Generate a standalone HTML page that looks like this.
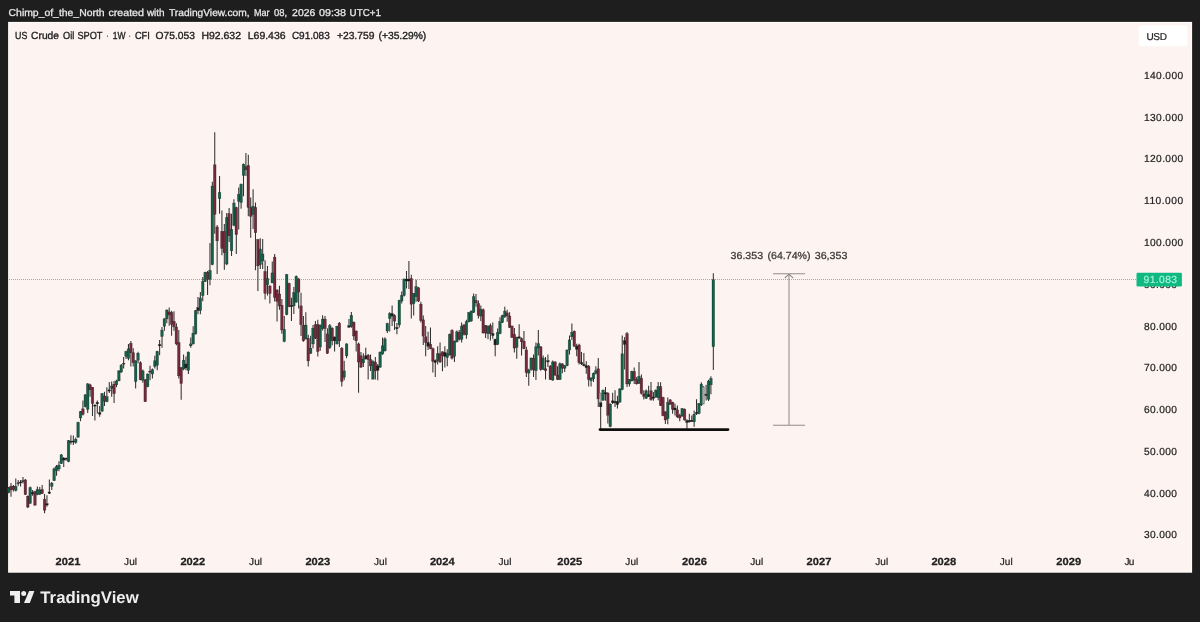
<!DOCTYPE html>
<html><head><meta charset="utf-8"><title>US Crude Oil SPOT 1W</title>
<style>html,body{margin:0;padding:0;background:#1e1e1e}svg{display:block}text{font-family:"Liberation Sans",sans-serif;text-rendering:geometricPrecision}</style></head>
<body>
<svg width="1200" height="622" viewBox="0 0 1200 622">
<rect width="1200" height="622" fill="#1e1e1e"/>
<rect x="8.1" y="21.9" width="1184" height="550.8" fill="#fffdfc"/>
<rect x="9.1" y="22.9" width="1182" height="548.8" fill="#fdf3f1"/>
<text x="8.6" y="16.3" font-size="10" fill="#e8e8e8" stroke="#e8e8e8" stroke-width="0.28" font-weight="normal" textLength="96.00" lengthAdjust="spacingAndGlyphs">Chimp_of_the_North</text>
<text x="108.4" y="16.3" font-size="10" fill="#e8e8e8" stroke="#e8e8e8" stroke-width="0.28" font-weight="normal" textLength="35.60" lengthAdjust="spacingAndGlyphs">created</text>
<text x="146.9" y="16.3" font-size="10" fill="#e8e8e8" stroke="#e8e8e8" stroke-width="0.28" font-weight="normal" textLength="17.70" lengthAdjust="spacingAndGlyphs">with</text>
<text x="169" y="16.3" font-size="10" fill="#e8e8e8" stroke="#e8e8e8" stroke-width="0.28" font-weight="normal" textLength="80.60" lengthAdjust="spacingAndGlyphs">TradingView.com,</text>
<text x="254" y="16.3" font-size="10" fill="#e8e8e8" stroke="#e8e8e8" stroke-width="0.28" font-weight="normal" textLength="15.60" lengthAdjust="spacingAndGlyphs">Mar</text>
<text x="274" y="16.3" font-size="10" fill="#e8e8e8" stroke="#e8e8e8" stroke-width="0.28" font-weight="normal" textLength="13.10" lengthAdjust="spacingAndGlyphs">08,</text>
<text x="292.1" y="16.3" font-size="10" fill="#e8e8e8" stroke="#e8e8e8" stroke-width="0.28" font-weight="normal" textLength="23.15" lengthAdjust="spacingAndGlyphs">2026</text>
<text x="319" y="16.3" font-size="10" fill="#e8e8e8" stroke="#e8e8e8" stroke-width="0.28" font-weight="normal" textLength="26.90" lengthAdjust="spacingAndGlyphs">09:38</text>
<text x="349.6" y="16.3" font-size="10" fill="#e8e8e8" stroke="#e8e8e8" stroke-width="0.28" font-weight="normal" textLength="31.30" lengthAdjust="spacingAndGlyphs">UTC+1</text>
<text x="15.1" y="38.6" font-size="10.3" fill="#222222" stroke="#222222" stroke-width="0.35" font-weight="normal" textLength="12.30" lengthAdjust="spacingAndGlyphs">US</text>
<text x="31.1" y="38.6" font-size="10.3" fill="#222222" stroke="#222222" stroke-width="0.35" font-weight="normal" textLength="27.90" lengthAdjust="spacingAndGlyphs">Crude</text>
<text x="63" y="38.6" font-size="10.3" fill="#222222" stroke="#222222" stroke-width="0.35" font-weight="normal" textLength="11.25" lengthAdjust="spacingAndGlyphs">Oil</text>
<text x="77.4" y="38.6" font-size="10.3" fill="#222222" stroke="#222222" stroke-width="0.35" font-weight="normal" textLength="25.00" lengthAdjust="spacingAndGlyphs">SPOT</text>
<text x="106.6" y="38.6" font-size="10.3" fill="#222222" stroke="#222222" stroke-width="0.35" font-weight="normal" textLength="1.60" lengthAdjust="spacingAndGlyphs">·</text>
<text x="112.75" y="38.6" font-size="10.3" fill="#222222" stroke="#222222" stroke-width="0.35" font-weight="normal" textLength="12.75" lengthAdjust="spacingAndGlyphs">1W</text>
<text x="129.1" y="38.6" font-size="10.3" fill="#222222" stroke="#222222" stroke-width="0.35" font-weight="normal" textLength="1.60" lengthAdjust="spacingAndGlyphs">·</text>
<text x="134.9" y="38.6" font-size="10.3" fill="#222222" stroke="#222222" stroke-width="0.35" font-weight="normal" textLength="15.00" lengthAdjust="spacingAndGlyphs">CFI</text>
<text x="155.6" y="38.6" font-size="10.3" fill="#222222" stroke="#222222" stroke-width="0.35" font-weight="normal" textLength="39.40" lengthAdjust="spacingAndGlyphs">O75.053</text>
<text x="201.5" y="38.6" font-size="10.3" fill="#222222" stroke="#222222" stroke-width="0.35" font-weight="normal" textLength="39.50" lengthAdjust="spacingAndGlyphs">H92.632</text>
<text x="247.75" y="38.6" font-size="10.3" fill="#222222" stroke="#222222" stroke-width="0.35" font-weight="normal" textLength="37.85" lengthAdjust="spacingAndGlyphs">L69.436</text>
<text x="291.9" y="38.6" font-size="10.3" fill="#222222" stroke="#222222" stroke-width="0.35" font-weight="normal" textLength="37.85" lengthAdjust="spacingAndGlyphs">C91.083</text>
<text x="336.9" y="38.6" font-size="10.3" fill="#222222" stroke="#222222" stroke-width="0.35" font-weight="normal" textLength="37.50" lengthAdjust="spacingAndGlyphs">+23.759</text>
<text x="378.5" y="38.6" font-size="10.3" fill="#222222" stroke="#222222" stroke-width="0.35" font-weight="normal" textLength="47.75" lengthAdjust="spacingAndGlyphs">(+35.29%)</text>
<rect x="1138.8" y="25.5" width="48.7" height="20.8" rx="3" fill="#ffffff"/>
<text x="1146.4" y="39.6" font-size="10" fill="#222222" stroke="#222222" stroke-width="0.22" font-weight="normal" text-anchor="start" textLength="20.6" lengthAdjust="spacing">USD</text>
<text x="1144" y="538.4" font-size="10.2" fill="#222222" stroke="#222222" stroke-width="0.22" font-weight="normal" text-anchor="start" textLength="33.0" lengthAdjust="spacing">30.000</text>
<text x="1144" y="496.6" font-size="10.2" fill="#222222" stroke="#222222" stroke-width="0.22" font-weight="normal" text-anchor="start" textLength="33.0" lengthAdjust="spacing">40.000</text>
<text x="1144" y="454.9" font-size="10.2" fill="#222222" stroke="#222222" stroke-width="0.22" font-weight="normal" text-anchor="start" textLength="33.0" lengthAdjust="spacing">50.000</text>
<text x="1144" y="413.1" font-size="10.2" fill="#222222" stroke="#222222" stroke-width="0.22" font-weight="normal" text-anchor="start" textLength="33.0" lengthAdjust="spacing">60.000</text>
<text x="1144" y="371.3" font-size="10.2" fill="#222222" stroke="#222222" stroke-width="0.22" font-weight="normal" text-anchor="start" textLength="33.0" lengthAdjust="spacing">70.000</text>
<text x="1144" y="329.5" font-size="10.2" fill="#222222" stroke="#222222" stroke-width="0.22" font-weight="normal" text-anchor="start" textLength="33.0" lengthAdjust="spacing">80.000</text>
<text x="1144" y="287.7" font-size="10.2" fill="#222222" stroke="#222222" stroke-width="0.22" font-weight="normal" text-anchor="start" textLength="33.0" lengthAdjust="spacing">90.000</text>
<text x="1144" y="245.9" font-size="10.2" fill="#222222" stroke="#222222" stroke-width="0.22" font-weight="normal" text-anchor="start" textLength="39.1" lengthAdjust="spacing">100.000</text>
<text x="1144" y="204.2" font-size="10.2" fill="#222222" stroke="#222222" stroke-width="0.22" font-weight="normal" text-anchor="start" textLength="39.1" lengthAdjust="spacing">110.000</text>
<text x="1144" y="162.4" font-size="10.2" fill="#222222" stroke="#222222" stroke-width="0.22" font-weight="normal" text-anchor="start" textLength="39.1" lengthAdjust="spacing">120.000</text>
<text x="1144" y="120.6" font-size="10.2" fill="#222222" stroke="#222222" stroke-width="0.22" font-weight="normal" text-anchor="start" textLength="39.1" lengthAdjust="spacing">130.000</text>
<text x="1144" y="78.8" font-size="10.2" fill="#222222" stroke="#222222" stroke-width="0.22" font-weight="normal" text-anchor="start" textLength="39.1" lengthAdjust="spacing">140.000</text>
<line x1="9" x2="1136" y1="279.5" y2="279.5" stroke="#6dba9c" stroke-width="0.9" stroke-dasharray="1 1"/>
<defs><filter id="bl" x="-2%" y="-2%" width="104%" height="104%"><feGaussianBlur stdDeviation="0.35"/></filter></defs>
<g id="candles" filter="url(#bl)"><path d="M8.60 487.0V493.3M11.00 482.9V496.7M13.39 485.1V491.4M15.79 478.6V491.6M18.19 480.1V486.1M20.59 479.9V486.4M22.98 477.0V483.6M25.38 479.1V494.9M27.78 495.4V507.9M30.17 486.4V503.9M32.57 490.1V495.8M34.97 490.8V505.8M37.36 486.6V495.2M39.76 487.0V494.9M42.16 485.1V494.1M44.55 493.9V513.3M46.95 495.2V506.7M49.35 479.5V493.9M51.75 482.0V489.9M54.14 467.6V481.1M56.54 465.1V475.7M58.94 461.3V471.3M61.33 454.0V464.0M63.73 456.9V466.9M66.13 457.5V460.7M68.52 440.0V462.3M70.92 435.2V444.4M73.32 435.6V445.0M75.72 437.5V443.7M78.11 421.8V437.7M80.51 410.9V421.2M82.91 400.5V415.5M85.30 394.2V407.4M87.70 383.3V413.0M90.10 383.8V396.7M92.49 387.0V416.1M94.89 404.2V420.5M97.29 400.5V413.6M99.69 406.1V416.8M102.08 392.9V411.7M104.48 391.7V406.1M106.88 387.3V402.3M109.27 382.0V392.9M111.67 381.6V396.7M114.07 381.0V403.0M116.46 379.8V387.3M118.86 370.2V381.3M121.26 364.0V372.7M123.66 357.1V368.4M126.05 350.8V358.9M128.45 343.9V360.2M130.85 341.1V366.5M133.24 348.3V366.5M135.64 360.2V388.5M138.04 351.7V363.3M140.43 361.2V380.3M142.83 369.6V382.8M145.23 379.1V402.1M147.63 373.4V387.2M150.02 365.8V380.3M152.42 368.4V378.4M154.82 355.8V368.4M157.21 350.8V370.2M159.61 340.1V355.2M162.01 327.0V347.7M164.40 318.2V330.7M166.80 309.4V323.2M169.20 307.5V325.7M171.60 310.7V335.7M173.99 311.3V330.7M176.39 323.2V345.2M178.79 330.1V378.4M181.18 367.1V399.8M183.58 354.6V370.2M185.98 356.4V370.2M188.37 351.4V374.0M190.77 337.6V347.7M193.17 326.3V344.5M195.57 310.0V334.5M197.96 297.0V314.2M200.36 291.9V314.2M202.76 276.9V301.2M205.15 271.8V282.0M207.55 271.0V295.1M209.95 243.0V285.3M212.34 181.7V265.2M214.74 132.2V233.8M217.14 225.0V274.1M219.54 176.1V213.7M221.93 210.6V255.2M224.33 223.9V269.7M226.73 213.1V265.3M229.12 208.1V242.1M231.52 213.7V255.9M233.92 199.3V226.3M236.31 206.8V254.0M238.71 187.4V229.5M241.11 183.6V208.7M243.51 163.6V196.2M245.90 152.9V176.1M248.30 154.8V216.2M250.70 197.4V237.7M253.09 189.3V228.9M255.49 202.4V270.3M257.89 238.9V291.0M260.28 238.3V269.0M262.68 238.9V269.0M265.08 260.2V299.6M267.48 266.1V295.6M269.87 285.2V303.4M272.27 261.4V283.3M274.67 254.0V301.5M277.06 289.3V321.6M279.46 285.8V309.7M281.86 299.0V333.7M284.25 315.9V342.3M286.65 273.9V315.3M289.05 282.7V307.2M291.45 297.7V320.9M293.84 287.1V314.1M296.24 275.5V302.8M298.64 278.3V308.4M301.03 292.7V336.0M303.43 315.9V341.8M305.83 312.2V339.5M308.23 334.7V366.5M310.62 335.7V353.9M313.02 325.1V348.3M315.42 320.9V339.1M317.81 319.7V356.4M320.21 324.5V350.8M322.61 315.3V330.4M325.00 315.9V342.0M327.40 328.2V353.9M329.80 324.1V348.9M332.19 327.2V345.2M334.59 336.4V351.4M336.99 325.7V344.5M339.39 322.0V347.0M341.78 347.0V386.5M344.18 360.8V380.3M346.58 343.3V358.3M348.97 319.1V327.8M351.37 311.9V327.8M353.77 321.6V340.0M356.17 330.4V351.4M358.56 342.6V392.8M360.96 352.1V368.0M363.36 353.3V367.1M365.75 347.7V359.6M368.15 353.9V379.6M370.55 354.6V370.9M372.94 360.2V379.6M375.34 357.1V379.6M377.74 364.0V380.3M380.13 351.4V367.7M382.53 337.6V354.8M384.93 337.3V351.4M387.33 322.8V332.9M389.72 312.2V331.6M392.12 305.4V326.1M394.52 314.2V329.9M396.91 323.0V334.3M399.31 299.8V327.4M401.71 291.6V303.5M404.10 278.5V296.6M406.50 270.9V288.5M408.90 260.9V289.1M411.30 274.7V318.6M413.69 292.9V315.5M416.09 279.7V301.7M418.49 286.9V301.9M420.88 301.7V322.4M423.28 315.5V344.9M425.68 326.1V356.2M428.07 331.8V349.9M430.47 327.4V349.3M432.87 347.4V372.5M435.27 359.4V376.9M437.66 346.2V364.4M440.06 342.4V363.1M442.46 351.2V371.3M444.85 346.2V367.5M447.25 349.3V366.3M449.65 333.6V355.6M452.04 329.3V359.4M454.44 340.5V361.9M456.84 330.5V342.4M459.24 329.9V340.5M461.63 322.4V342.4M464.03 324.2V335.5M466.43 319.8V338.7M468.82 311.9V322.4M471.22 310.4V321.7M473.62 293.5V312.9M476.01 293.9V306.7M478.41 300.4V318.6M480.81 305.4V321.1M483.21 308.6V333.6M485.60 324.9V338.0M488.00 325.5V339.3M490.40 323.6V340.5M492.79 322.4V338.7M495.19 338.7V356.2M497.59 328.6V344.9M499.98 317.3V334.3M502.38 314.8V323.0M504.78 306.7V318.0M507.18 309.8V321.7M509.57 312.3V328.0M511.97 325.5V338.0M514.37 328.0V352.5M516.76 336.8V358.7M519.16 324.2V338.7M521.56 337.4V355.6M523.95 331.1V349.3M526.35 346.8V376.9M528.75 368.8V385.7M531.15 357.5V370.7M533.54 354.4V376.9M535.94 342.5V380.1M538.34 329.9V355.6M540.73 346.2V370.7M543.13 355.6V370.1M545.53 356.9V379.5M547.92 354.4V366.9M550.32 365.0V380.1M552.72 360.6V380.7M555.12 361.3V375.7M557.51 366.3V380.1M559.91 362.5V380.1M562.31 363.2V373.2M564.70 365.0V371.9M567.10 349.4V366.3M569.50 335.6V354.4M571.89 323.6V339.9M574.29 330.5V346.8M576.69 343.7V356.3M579.09 343.7V364.4M581.48 351.9V365.0M583.88 353.1V366.3M586.28 361.3V373.8M588.67 365.0V386.4M591.07 376.9V386.4M593.47 372.6V382.0M595.87 366.3V374.4M598.26 358.1V407.1M600.66 392.7V429.1M600.66 402.7V407.1M603.06 389.6V400.8M605.45 387.1V400.8M607.85 392.1V423.4M610.25 403.4V427.2M612.64 392.7V404.0M615.04 390.2V407.1M617.44 395.8V408.4M619.83 388.3V402.7M622.23 335.6V390.2M624.63 336.9V369.5M627.03 332.1V387.1M629.42 378.9V386.4M631.82 370.7V381.4M634.22 367.6V383.9M636.61 377.0V384.5M639.01 362.0V383.9M641.41 374.5V394.6M643.80 390.2V399.6M646.20 389.6V399.0M648.60 385.8V397.1M651.00 382.0V400.8M653.39 392.1V400.8M655.79 389.6V397.7M658.19 382.0V400.2M660.58 382.3V406.1M662.98 396.7V416.2M665.38 411.2V423.9M667.77 397.4V424.3M670.17 398.9V404.9M672.57 401.7V413.7M674.97 403.6V415.5M677.36 405.5V418.1M679.76 413.7V421.2M682.16 408.0V416.8M684.55 408.4V420.6M686.95 419.3V428.7M689.35 413.7V422.4M691.75 415.5V421.8M694.14 410.5V426.8M696.54 399.2V414.9M698.94 403.0V414.3M701.33 382.3V406.1M703.73 386.1V404.3M706.13 384.8V400.5M708.52 379.8V401.1M710.92 376.3V394.2M713.32 273.2V370.1" stroke="#333" stroke-width="1.05" fill="none"/>
<rect x="7.30" y="487.6" width="2.6" height="5.0" fill="#14604a" stroke="#0c0c0c" stroke-opacity="0.5" stroke-width="0.5"/>
<rect x="9.70" y="486.4" width="2.6" height="3.5" fill="#74293a" stroke="#0c0c0c" stroke-opacity="0.5" stroke-width="0.5"/>
<rect x="12.09" y="486.1" width="2.6" height="3.4" fill="#74293a" stroke="#0c0c0c" stroke-opacity="0.5" stroke-width="0.5"/>
<rect x="14.49" y="486.4" width="2.6" height="4.0" fill="#14604a" stroke="#0c0c0c" stroke-opacity="0.5" stroke-width="0.5"/>
<rect x="16.89" y="482.8" width="2.6" height="0.8" fill="#1c1c1c" stroke="#0c0c0c" stroke-opacity="0.5" stroke-width="0.5"/>
<rect x="19.29" y="482.0" width="2.6" height="0.9" fill="#1c1c1c" stroke="#0c0c0c" stroke-opacity="0.5" stroke-width="0.5"/>
<rect x="21.68" y="480.7" width="2.6" height="0.9" fill="#1c1c1c" stroke="#0c0c0c" stroke-opacity="0.5" stroke-width="0.5"/>
<rect x="24.08" y="479.9" width="2.6" height="14.7" fill="#74293a" stroke="#0c0c0c" stroke-opacity="0.5" stroke-width="0.5"/>
<rect x="26.48" y="496.2" width="2.6" height="10.9" fill="#74293a" stroke="#0c0c0c" stroke-opacity="0.5" stroke-width="0.5"/>
<rect x="28.87" y="487.6" width="2.6" height="15.7" fill="#14604a" stroke="#0c0c0c" stroke-opacity="0.5" stroke-width="0.5"/>
<rect x="31.27" y="492.6" width="2.6" height="1.3" fill="#1c1c1c" stroke="#0c0c0c" stroke-opacity="0.5" stroke-width="0.5"/>
<rect x="33.67" y="491.6" width="2.6" height="13.5" fill="#74293a" stroke="#0c0c0c" stroke-opacity="0.5" stroke-width="0.5"/>
<rect x="36.06" y="489.5" width="2.6" height="5.0" fill="#14604a" stroke="#0c0c0c" stroke-opacity="0.5" stroke-width="0.5"/>
<rect x="38.46" y="489.9" width="2.6" height="4.3" fill="#14604a" stroke="#0c0c0c" stroke-opacity="0.5" stroke-width="0.5"/>
<rect x="40.86" y="489.5" width="2.6" height="4.1" fill="#74293a" stroke="#0c0c0c" stroke-opacity="0.5" stroke-width="0.5"/>
<rect x="43.26" y="499.2" width="2.6" height="11.0" fill="#74293a" stroke="#0c0c0c" stroke-opacity="0.5" stroke-width="0.5"/>
<rect x="45.65" y="503.7" width="2.6" height="1.3" fill="#1c1c1c" stroke="#0c0c0c" stroke-opacity="0.5" stroke-width="0.5"/>
<rect x="48.05" y="492.0" width="2.6" height="1.3" fill="#1c1c1c" stroke="#0c0c0c" stroke-opacity="0.5" stroke-width="0.5"/>
<rect x="50.45" y="483.2" width="2.6" height="3.1" fill="#14604a" stroke="#0c0c0c" stroke-opacity="0.5" stroke-width="0.5"/>
<rect x="52.84" y="468.8" width="2.6" height="11.9" fill="#14604a" stroke="#0c0c0c" stroke-opacity="0.5" stroke-width="0.5"/>
<rect x="55.24" y="466.3" width="2.6" height="4.4" fill="#14604a" stroke="#0c0c0c" stroke-opacity="0.5" stroke-width="0.5"/>
<rect x="57.64" y="465.1" width="2.6" height="3.8" fill="#14604a" stroke="#0c0c0c" stroke-opacity="0.5" stroke-width="0.5"/>
<rect x="60.03" y="454.8" width="2.6" height="8.8" fill="#14604a" stroke="#0c0c0c" stroke-opacity="0.5" stroke-width="0.5"/>
<rect x="62.43" y="458.2" width="2.6" height="1.9" fill="#1c1c1c" stroke="#0c0c0c" stroke-opacity="0.5" stroke-width="0.5"/>
<rect x="64.83" y="458.3" width="2.6" height="1.0" fill="#1c1c1c" stroke="#0c0c0c" stroke-opacity="0.5" stroke-width="0.5"/>
<rect x="67.22" y="440.6" width="2.6" height="20.9" fill="#14604a" stroke="#0c0c0c" stroke-opacity="0.5" stroke-width="0.5"/>
<rect x="69.62" y="441.2" width="2.6" height="1.0" fill="#1c1c1c" stroke="#0c0c0c" stroke-opacity="0.5" stroke-width="0.5"/>
<rect x="72.02" y="441.0" width="2.6" height="1.0" fill="#1c1c1c" stroke="#0c0c0c" stroke-opacity="0.5" stroke-width="0.5"/>
<rect x="74.42" y="439.3" width="2.6" height="3.1" fill="#14604a" stroke="#0c0c0c" stroke-opacity="0.5" stroke-width="0.5"/>
<rect x="76.81" y="422.4" width="2.6" height="14.8" fill="#14604a" stroke="#0c0c0c" stroke-opacity="0.5" stroke-width="0.5"/>
<rect x="79.21" y="411.4" width="2.6" height="6.6" fill="#14604a" stroke="#0c0c0c" stroke-opacity="0.5" stroke-width="0.5"/>
<rect x="81.61" y="408.9" width="2.6" height="5.4" fill="#74293a" stroke="#0c0c0c" stroke-opacity="0.5" stroke-width="0.5"/>
<rect x="84.00" y="394.8" width="2.6" height="11.9" fill="#14604a" stroke="#0c0c0c" stroke-opacity="0.5" stroke-width="0.5"/>
<rect x="86.40" y="383.8" width="2.6" height="25.5" fill="#14604a" stroke="#0c0c0c" stroke-opacity="0.5" stroke-width="0.5"/>
<rect x="88.80" y="384.8" width="2.6" height="5.0" fill="#74293a" stroke="#0c0c0c" stroke-opacity="0.5" stroke-width="0.5"/>
<rect x="91.19" y="387.3" width="2.6" height="16.3" fill="#74293a" stroke="#0c0c0c" stroke-opacity="0.5" stroke-width="0.5"/>
<rect x="93.59" y="405.1" width="2.6" height="1.0" fill="#1c1c1c" stroke="#0c0c0c" stroke-opacity="0.5" stroke-width="0.5"/>
<rect x="95.99" y="402.3" width="2.6" height="1.5" fill="#1c1c1c" stroke="#0c0c0c" stroke-opacity="0.5" stroke-width="0.5"/>
<rect x="98.39" y="412.6" width="2.6" height="1.6" fill="#1c1c1c" stroke="#0c0c0c" stroke-opacity="0.5" stroke-width="0.5"/>
<rect x="100.78" y="393.6" width="2.6" height="17.6" fill="#14604a" stroke="#0c0c0c" stroke-opacity="0.5" stroke-width="0.5"/>
<rect x="103.18" y="396.1" width="2.6" height="5.0" fill="#74293a" stroke="#0c0c0c" stroke-opacity="0.5" stroke-width="0.5"/>
<rect x="105.58" y="396.7" width="2.6" height="5.0" fill="#14604a" stroke="#0c0c0c" stroke-opacity="0.5" stroke-width="0.5"/>
<rect x="107.97" y="389.8" width="2.6" height="1.3" fill="#1c1c1c" stroke="#0c0c0c" stroke-opacity="0.5" stroke-width="0.5"/>
<rect x="110.37" y="386.0" width="2.6" height="2.5" fill="#14604a" stroke="#0c0c0c" stroke-opacity="0.5" stroke-width="0.5"/>
<rect x="112.77" y="384.2" width="2.6" height="9.4" fill="#74293a" stroke="#0c0c0c" stroke-opacity="0.5" stroke-width="0.5"/>
<rect x="115.16" y="381.0" width="2.6" height="3.8" fill="#14604a" stroke="#0c0c0c" stroke-opacity="0.5" stroke-width="0.5"/>
<rect x="117.56" y="370.9" width="2.6" height="9.9" fill="#14604a" stroke="#0c0c0c" stroke-opacity="0.5" stroke-width="0.5"/>
<rect x="119.96" y="365.2" width="2.6" height="6.9" fill="#14604a" stroke="#0c0c0c" stroke-opacity="0.5" stroke-width="0.5"/>
<rect x="122.36" y="363.3" width="2.6" height="0.9" fill="#1c1c1c" stroke="#0c0c0c" stroke-opacity="0.5" stroke-width="0.5"/>
<rect x="124.75" y="351.4" width="2.6" height="5.0" fill="#14604a" stroke="#0c0c0c" stroke-opacity="0.5" stroke-width="0.5"/>
<rect x="127.15" y="348.9" width="2.6" height="9.4" fill="#14604a" stroke="#0c0c0c" stroke-opacity="0.5" stroke-width="0.5"/>
<rect x="129.55" y="343.3" width="2.6" height="9.4" fill="#74293a" stroke="#0c0c0c" stroke-opacity="0.5" stroke-width="0.5"/>
<rect x="131.94" y="352.7" width="2.6" height="10.0" fill="#74293a" stroke="#0c0c0c" stroke-opacity="0.5" stroke-width="0.5"/>
<rect x="134.34" y="360.8" width="2.6" height="20.8" fill="#14604a" stroke="#0c0c0c" stroke-opacity="0.5" stroke-width="0.5"/>
<rect x="136.74" y="353.3" width="2.6" height="6.9" fill="#14604a" stroke="#0c0c0c" stroke-opacity="0.5" stroke-width="0.5"/>
<rect x="139.13" y="362.7" width="2.6" height="17.1" fill="#74293a" stroke="#0c0c0c" stroke-opacity="0.5" stroke-width="0.5"/>
<rect x="141.53" y="370.9" width="2.6" height="9.4" fill="#14604a" stroke="#0c0c0c" stroke-opacity="0.5" stroke-width="0.5"/>
<rect x="143.93" y="379.8" width="2.6" height="21.9" fill="#74293a" stroke="#0c0c0c" stroke-opacity="0.5" stroke-width="0.5"/>
<rect x="146.33" y="374.0" width="2.6" height="12.7" fill="#14604a" stroke="#0c0c0c" stroke-opacity="0.5" stroke-width="0.5"/>
<rect x="148.72" y="371.2" width="2.6" height="0.9" fill="#1c1c1c" stroke="#0c0c0c" stroke-opacity="0.5" stroke-width="0.5"/>
<rect x="151.12" y="369.6" width="2.6" height="4.4" fill="#14604a" stroke="#0c0c0c" stroke-opacity="0.5" stroke-width="0.5"/>
<rect x="153.52" y="360.8" width="2.6" height="5.6" fill="#14604a" stroke="#0c0c0c" stroke-opacity="0.5" stroke-width="0.5"/>
<rect x="155.91" y="351.4" width="2.6" height="13.8" fill="#14604a" stroke="#0c0c0c" stroke-opacity="0.5" stroke-width="0.5"/>
<rect x="158.31" y="344.5" width="2.6" height="1.3" fill="#1c1c1c" stroke="#0c0c0c" stroke-opacity="0.5" stroke-width="0.5"/>
<rect x="160.71" y="330.1" width="2.6" height="6.3" fill="#14604a" stroke="#0c0c0c" stroke-opacity="0.5" stroke-width="0.5"/>
<rect x="163.10" y="318.8" width="2.6" height="7.5" fill="#14604a" stroke="#0c0c0c" stroke-opacity="0.5" stroke-width="0.5"/>
<rect x="165.50" y="310.0" width="2.6" height="8.8" fill="#14604a" stroke="#0c0c0c" stroke-opacity="0.5" stroke-width="0.5"/>
<rect x="167.90" y="311.9" width="2.6" height="3.1" fill="#74293a" stroke="#0c0c0c" stroke-opacity="0.5" stroke-width="0.5"/>
<rect x="170.30" y="312.5" width="2.6" height="11.9" fill="#74293a" stroke="#0c0c0c" stroke-opacity="0.5" stroke-width="0.5"/>
<rect x="172.69" y="321.3" width="2.6" height="5.6" fill="#74293a" stroke="#0c0c0c" stroke-opacity="0.5" stroke-width="0.5"/>
<rect x="175.09" y="327.0" width="2.6" height="16.9" fill="#74293a" stroke="#0c0c0c" stroke-opacity="0.5" stroke-width="0.5"/>
<rect x="177.49" y="342.6" width="2.6" height="33.2" fill="#74293a" stroke="#0c0c0c" stroke-opacity="0.5" stroke-width="0.5"/>
<rect x="179.88" y="367.7" width="2.6" height="15.8" fill="#74293a" stroke="#0c0c0c" stroke-opacity="0.5" stroke-width="0.5"/>
<rect x="182.28" y="360.2" width="2.6" height="8.8" fill="#14604a" stroke="#0c0c0c" stroke-opacity="0.5" stroke-width="0.5"/>
<rect x="184.68" y="364.0" width="2.6" height="3.8" fill="#1c1c1c" stroke="#0c0c0c" stroke-opacity="0.5" stroke-width="0.5"/>
<rect x="187.07" y="352.1" width="2.6" height="18.2" fill="#14604a" stroke="#0c0c0c" stroke-opacity="0.5" stroke-width="0.5"/>
<rect x="189.47" y="343.9" width="2.6" height="1.9" fill="#14604a" stroke="#0c0c0c" stroke-opacity="0.5" stroke-width="0.5"/>
<rect x="191.87" y="333.2" width="2.6" height="10.7" fill="#14604a" stroke="#0c0c0c" stroke-opacity="0.5" stroke-width="0.5"/>
<rect x="194.27" y="310.7" width="2.6" height="23.2" fill="#14604a" stroke="#0c0c0c" stroke-opacity="0.5" stroke-width="0.5"/>
<rect x="196.66" y="307.7" width="2.6" height="2.8" fill="#1c1c1c" stroke="#0c0c0c" stroke-opacity="0.5" stroke-width="0.5"/>
<rect x="199.06" y="297.9" width="2.6" height="12.6" fill="#14604a" stroke="#0c0c0c" stroke-opacity="0.5" stroke-width="0.5"/>
<rect x="201.46" y="281.6" width="2.6" height="14.0" fill="#14604a" stroke="#0c0c0c" stroke-opacity="0.5" stroke-width="0.5"/>
<rect x="203.85" y="272.3" width="2.6" height="9.3" fill="#14604a" stroke="#0c0c0c" stroke-opacity="0.5" stroke-width="0.5"/>
<rect x="206.25" y="272.3" width="2.6" height="7.0" fill="#74293a" stroke="#0c0c0c" stroke-opacity="0.5" stroke-width="0.5"/>
<rect x="208.65" y="270.4" width="2.6" height="8.9" fill="#14604a" stroke="#0c0c0c" stroke-opacity="0.5" stroke-width="0.5"/>
<rect x="211.04" y="186.1" width="2.6" height="78.5" fill="#14604a" stroke="#0c0c0c" stroke-opacity="0.5" stroke-width="0.5"/>
<rect x="213.44" y="164.8" width="2.6" height="49.5" fill="#74293a" stroke="#0c0c0c" stroke-opacity="0.5" stroke-width="0.5"/>
<rect x="215.84" y="227.0" width="2.6" height="13.8" fill="#74293a" stroke="#0c0c0c" stroke-opacity="0.5" stroke-width="0.5"/>
<rect x="218.24" y="192.4" width="2.6" height="6.3" fill="#14604a" stroke="#0c0c0c" stroke-opacity="0.5" stroke-width="0.5"/>
<rect x="220.63" y="231.4" width="2.6" height="16.9" fill="#74293a" stroke="#0c0c0c" stroke-opacity="0.5" stroke-width="0.5"/>
<rect x="223.03" y="231.4" width="2.6" height="21.3" fill="#74293a" stroke="#0c0c0c" stroke-opacity="0.5" stroke-width="0.5"/>
<rect x="225.43" y="217.5" width="2.6" height="46.5" fill="#14604a" stroke="#0c0c0c" stroke-opacity="0.5" stroke-width="0.5"/>
<rect x="227.82" y="213.7" width="2.6" height="22.1" fill="#74293a" stroke="#0c0c0c" stroke-opacity="0.5" stroke-width="0.5"/>
<rect x="230.22" y="229.5" width="2.6" height="21.3" fill="#14604a" stroke="#0c0c0c" stroke-opacity="0.5" stroke-width="0.5"/>
<rect x="232.62" y="203.1" width="2.6" height="22.1" fill="#14604a" stroke="#0c0c0c" stroke-opacity="0.5" stroke-width="0.5"/>
<rect x="235.01" y="207.5" width="2.6" height="27.1" fill="#74293a" stroke="#0c0c0c" stroke-opacity="0.5" stroke-width="0.5"/>
<rect x="237.41" y="194.3" width="2.6" height="6.9" fill="#14604a" stroke="#0c0c0c" stroke-opacity="0.5" stroke-width="0.5"/>
<rect x="239.81" y="184.3" width="2.6" height="18.2" fill="#14604a" stroke="#0c0c0c" stroke-opacity="0.5" stroke-width="0.5"/>
<rect x="242.21" y="164.2" width="2.6" height="11.3" fill="#14604a" stroke="#0c0c0c" stroke-opacity="0.5" stroke-width="0.5"/>
<rect x="244.60" y="166.7" width="2.6" height="3.1" fill="#74293a" stroke="#0c0c0c" stroke-opacity="0.5" stroke-width="0.5"/>
<rect x="247.00" y="165.4" width="2.6" height="42.0" fill="#74293a" stroke="#0c0c0c" stroke-opacity="0.5" stroke-width="0.5"/>
<rect x="249.40" y="207.5" width="2.6" height="8.8" fill="#74293a" stroke="#0c0c0c" stroke-opacity="0.5" stroke-width="0.5"/>
<rect x="251.79" y="206.2" width="2.6" height="8.2" fill="#14604a" stroke="#0c0c0c" stroke-opacity="0.5" stroke-width="0.5"/>
<rect x="254.19" y="207.5" width="2.6" height="25.2" fill="#74293a" stroke="#0c0c0c" stroke-opacity="0.5" stroke-width="0.5"/>
<rect x="256.59" y="239.5" width="2.6" height="26.3" fill="#74293a" stroke="#0c0c0c" stroke-opacity="0.5" stroke-width="0.5"/>
<rect x="258.98" y="249.0" width="2.6" height="15.7" fill="#14604a" stroke="#0c0c0c" stroke-opacity="0.5" stroke-width="0.5"/>
<rect x="261.38" y="254.0" width="2.6" height="6.9" fill="#14604a" stroke="#0c0c0c" stroke-opacity="0.5" stroke-width="0.5"/>
<rect x="263.78" y="271.5" width="2.6" height="21.8" fill="#74293a" stroke="#0c0c0c" stroke-opacity="0.5" stroke-width="0.5"/>
<rect x="266.18" y="278.7" width="2.6" height="6.0" fill="#14604a" stroke="#0c0c0c" stroke-opacity="0.5" stroke-width="0.5"/>
<rect x="268.57" y="286.0" width="2.6" height="7.5" fill="#74293a" stroke="#0c0c0c" stroke-opacity="0.5" stroke-width="0.5"/>
<rect x="270.97" y="272.9" width="2.6" height="9.9" fill="#14604a" stroke="#0c0c0c" stroke-opacity="0.5" stroke-width="0.5"/>
<rect x="273.37" y="257.1" width="2.6" height="40.4" fill="#74293a" stroke="#0c0c0c" stroke-opacity="0.5" stroke-width="0.5"/>
<rect x="275.76" y="290.0" width="2.6" height="11.5" fill="#74293a" stroke="#0c0c0c" stroke-opacity="0.5" stroke-width="0.5"/>
<rect x="278.16" y="294.0" width="2.6" height="11.9" fill="#74293a" stroke="#0c0c0c" stroke-opacity="0.5" stroke-width="0.5"/>
<rect x="280.56" y="305.3" width="2.6" height="24.6" fill="#74293a" stroke="#0c0c0c" stroke-opacity="0.5" stroke-width="0.5"/>
<rect x="282.95" y="329.5" width="2.6" height="11.9" fill="#14604a" stroke="#0c0c0c" stroke-opacity="0.5" stroke-width="0.5"/>
<rect x="285.35" y="274.5" width="2.6" height="40.1" fill="#14604a" stroke="#0c0c0c" stroke-opacity="0.5" stroke-width="0.5"/>
<rect x="287.75" y="283.3" width="2.6" height="23.2" fill="#74293a" stroke="#0c0c0c" stroke-opacity="0.5" stroke-width="0.5"/>
<rect x="290.15" y="305.3" width="2.6" height="1.3" fill="#1c1c1c" stroke="#0c0c0c" stroke-opacity="0.5" stroke-width="0.5"/>
<rect x="292.54" y="292.7" width="2.6" height="13.2" fill="#14604a" stroke="#0c0c0c" stroke-opacity="0.5" stroke-width="0.5"/>
<rect x="294.94" y="276.4" width="2.6" height="25.7" fill="#14604a" stroke="#0c0c0c" stroke-opacity="0.5" stroke-width="0.5"/>
<rect x="297.34" y="278.9" width="2.6" height="13.2" fill="#74293a" stroke="#0c0c0c" stroke-opacity="0.5" stroke-width="0.5"/>
<rect x="299.73" y="305.9" width="2.6" height="18.8" fill="#74293a" stroke="#0c0c0c" stroke-opacity="0.5" stroke-width="0.5"/>
<rect x="302.13" y="325.1" width="2.6" height="15.7" fill="#74293a" stroke="#0c0c0c" stroke-opacity="0.5" stroke-width="0.5"/>
<rect x="304.53" y="325.1" width="2.6" height="13.8" fill="#14604a" stroke="#0c0c0c" stroke-opacity="0.5" stroke-width="0.5"/>
<rect x="306.93" y="338.3" width="2.6" height="22.6" fill="#74293a" stroke="#0c0c0c" stroke-opacity="0.5" stroke-width="0.5"/>
<rect x="309.32" y="348.3" width="2.6" height="5.0" fill="#14604a" stroke="#0c0c0c" stroke-opacity="0.5" stroke-width="0.5"/>
<rect x="311.72" y="328.2" width="2.6" height="15.7" fill="#14604a" stroke="#0c0c0c" stroke-opacity="0.5" stroke-width="0.5"/>
<rect x="314.12" y="324.7" width="2.6" height="13.5" fill="#74293a" stroke="#0c0c0c" stroke-opacity="0.5" stroke-width="0.5"/>
<rect x="316.51" y="324.5" width="2.6" height="27.0" fill="#74293a" stroke="#0c0c0c" stroke-opacity="0.5" stroke-width="0.5"/>
<rect x="318.91" y="325.1" width="2.6" height="21.9" fill="#14604a" stroke="#0c0c0c" stroke-opacity="0.5" stroke-width="0.5"/>
<rect x="321.31" y="319.1" width="2.6" height="9.4" fill="#14604a" stroke="#0c0c0c" stroke-opacity="0.5" stroke-width="0.5"/>
<rect x="323.70" y="319.1" width="2.6" height="9.4" fill="#74293a" stroke="#0c0c0c" stroke-opacity="0.5" stroke-width="0.5"/>
<rect x="326.10" y="333.9" width="2.6" height="19.4" fill="#74293a" stroke="#0c0c0c" stroke-opacity="0.5" stroke-width="0.5"/>
<rect x="328.50" y="325.7" width="2.6" height="21.9" fill="#14604a" stroke="#0c0c0c" stroke-opacity="0.5" stroke-width="0.5"/>
<rect x="330.89" y="328.2" width="2.6" height="12.5" fill="#74293a" stroke="#0c0c0c" stroke-opacity="0.5" stroke-width="0.5"/>
<rect x="333.29" y="337.0" width="2.6" height="3.8" fill="#1c1c1c" stroke="#0c0c0c" stroke-opacity="0.5" stroke-width="0.5"/>
<rect x="335.69" y="326.3" width="2.6" height="17.6" fill="#14604a" stroke="#0c0c0c" stroke-opacity="0.5" stroke-width="0.5"/>
<rect x="338.09" y="323.2" width="2.6" height="17.6" fill="#74293a" stroke="#0c0c0c" stroke-opacity="0.5" stroke-width="0.5"/>
<rect x="340.48" y="348.3" width="2.6" height="33.2" fill="#74293a" stroke="#0c0c0c" stroke-opacity="0.5" stroke-width="0.5"/>
<rect x="342.88" y="370.9" width="2.6" height="6.3" fill="#14604a" stroke="#0c0c0c" stroke-opacity="0.5" stroke-width="0.5"/>
<rect x="345.28" y="343.9" width="2.6" height="11.9" fill="#14604a" stroke="#0c0c0c" stroke-opacity="0.5" stroke-width="0.5"/>
<rect x="347.67" y="325.7" width="2.6" height="1.5" fill="#1c1c1c" stroke="#0c0c0c" stroke-opacity="0.5" stroke-width="0.5"/>
<rect x="350.07" y="315.3" width="2.6" height="11.3" fill="#14604a" stroke="#0c0c0c" stroke-opacity="0.5" stroke-width="0.5"/>
<rect x="352.47" y="322.2" width="2.6" height="13.8" fill="#74293a" stroke="#0c0c0c" stroke-opacity="0.5" stroke-width="0.5"/>
<rect x="354.87" y="331.0" width="2.6" height="9.8" fill="#74293a" stroke="#0c0c0c" stroke-opacity="0.5" stroke-width="0.5"/>
<rect x="357.26" y="343.9" width="2.6" height="18.2" fill="#74293a" stroke="#0c0c0c" stroke-opacity="0.5" stroke-width="0.5"/>
<rect x="359.66" y="355.8" width="2.6" height="11.3" fill="#74293a" stroke="#0c0c0c" stroke-opacity="0.5" stroke-width="0.5"/>
<rect x="362.06" y="359.0" width="2.6" height="3.8" fill="#14604a" stroke="#0c0c0c" stroke-opacity="0.5" stroke-width="0.5"/>
<rect x="364.45" y="355.8" width="2.6" height="3.1" fill="#1c1c1c" stroke="#0c0c0c" stroke-opacity="0.5" stroke-width="0.5"/>
<rect x="366.85" y="355.2" width="2.6" height="4.4" fill="#74293a" stroke="#0c0c0c" stroke-opacity="0.5" stroke-width="0.5"/>
<rect x="369.25" y="359.6" width="2.6" height="6.3" fill="#74293a" stroke="#0c0c0c" stroke-opacity="0.5" stroke-width="0.5"/>
<rect x="371.64" y="361.5" width="2.6" height="17.6" fill="#14604a" stroke="#0c0c0c" stroke-opacity="0.5" stroke-width="0.5"/>
<rect x="374.04" y="362.1" width="2.6" height="8.8" fill="#74293a" stroke="#0c0c0c" stroke-opacity="0.5" stroke-width="0.5"/>
<rect x="376.44" y="365.9" width="2.6" height="4.4" fill="#1c1c1c" stroke="#0c0c0c" stroke-opacity="0.5" stroke-width="0.5"/>
<rect x="378.83" y="352.1" width="2.6" height="15.1" fill="#14604a" stroke="#0c0c0c" stroke-opacity="0.5" stroke-width="0.5"/>
<rect x="381.23" y="345.8" width="2.6" height="8.2" fill="#14604a" stroke="#0c0c0c" stroke-opacity="0.5" stroke-width="0.5"/>
<rect x="383.63" y="338.9" width="2.6" height="11.9" fill="#14604a" stroke="#0c0c0c" stroke-opacity="0.5" stroke-width="0.5"/>
<rect x="386.03" y="323.5" width="2.6" height="7.5" fill="#14604a" stroke="#0c0c0c" stroke-opacity="0.5" stroke-width="0.5"/>
<rect x="388.42" y="313.5" width="2.6" height="5.0" fill="#14604a" stroke="#0c0c0c" stroke-opacity="0.5" stroke-width="0.5"/>
<rect x="390.82" y="313.6" width="2.6" height="2.5" fill="#1c1c1c" stroke="#0c0c0c" stroke-opacity="0.5" stroke-width="0.5"/>
<rect x="393.22" y="315.5" width="2.6" height="5.6" fill="#74293a" stroke="#0c0c0c" stroke-opacity="0.5" stroke-width="0.5"/>
<rect x="395.61" y="327.4" width="2.6" height="1.3" fill="#1c1c1c" stroke="#0c0c0c" stroke-opacity="0.5" stroke-width="0.5"/>
<rect x="398.01" y="300.4" width="2.6" height="24.5" fill="#14604a" stroke="#0c0c0c" stroke-opacity="0.5" stroke-width="0.5"/>
<rect x="400.41" y="295.4" width="2.6" height="5.6" fill="#14604a" stroke="#0c0c0c" stroke-opacity="0.5" stroke-width="0.5"/>
<rect x="402.80" y="279.1" width="2.6" height="16.3" fill="#14604a" stroke="#0c0c0c" stroke-opacity="0.5" stroke-width="0.5"/>
<rect x="405.20" y="279.1" width="2.6" height="1.9" fill="#1c1c1c" stroke="#0c0c0c" stroke-opacity="0.5" stroke-width="0.5"/>
<rect x="407.60" y="279.1" width="2.6" height="1.9" fill="#1c1c1c" stroke="#0c0c0c" stroke-opacity="0.5" stroke-width="0.5"/>
<rect x="410.00" y="278.5" width="2.6" height="25.7" fill="#74293a" stroke="#0c0c0c" stroke-opacity="0.5" stroke-width="0.5"/>
<rect x="412.39" y="293.5" width="2.6" height="10.0" fill="#14604a" stroke="#0c0c0c" stroke-opacity="0.5" stroke-width="0.5"/>
<rect x="414.79" y="286.6" width="2.6" height="10.0" fill="#14604a" stroke="#0c0c0c" stroke-opacity="0.5" stroke-width="0.5"/>
<rect x="417.19" y="287.9" width="2.6" height="13.2" fill="#74293a" stroke="#0c0c0c" stroke-opacity="0.5" stroke-width="0.5"/>
<rect x="419.58" y="304.2" width="2.6" height="16.3" fill="#74293a" stroke="#0c0c0c" stroke-opacity="0.5" stroke-width="0.5"/>
<rect x="421.98" y="319.8" width="2.6" height="16.3" fill="#74293a" stroke="#0c0c0c" stroke-opacity="0.5" stroke-width="0.5"/>
<rect x="424.38" y="336.8" width="2.6" height="5.6" fill="#74293a" stroke="#0c0c0c" stroke-opacity="0.5" stroke-width="0.5"/>
<rect x="426.77" y="342.4" width="2.6" height="3.8" fill="#1c1c1c" stroke="#0c0c0c" stroke-opacity="0.5" stroke-width="0.5"/>
<rect x="429.17" y="344.3" width="2.6" height="4.4" fill="#74293a" stroke="#0c0c0c" stroke-opacity="0.5" stroke-width="0.5"/>
<rect x="431.57" y="348.7" width="2.6" height="12.5" fill="#74293a" stroke="#0c0c0c" stroke-opacity="0.5" stroke-width="0.5"/>
<rect x="433.97" y="360.6" width="2.6" height="1.9" fill="#1c1c1c" stroke="#0c0c0c" stroke-opacity="0.5" stroke-width="0.5"/>
<rect x="436.36" y="353.7" width="2.6" height="6.9" fill="#14604a" stroke="#0c0c0c" stroke-opacity="0.5" stroke-width="0.5"/>
<rect x="438.76" y="353.7" width="2.6" height="8.2" fill="#74293a" stroke="#0c0c0c" stroke-opacity="0.5" stroke-width="0.5"/>
<rect x="441.16" y="351.8" width="2.6" height="3.8" fill="#74293a" stroke="#0c0c0c" stroke-opacity="0.5" stroke-width="0.5"/>
<rect x="443.55" y="352.5" width="2.6" height="3.8" fill="#1c1c1c" stroke="#0c0c0c" stroke-opacity="0.5" stroke-width="0.5"/>
<rect x="445.95" y="353.7" width="2.6" height="3.8" fill="#14604a" stroke="#0c0c0c" stroke-opacity="0.5" stroke-width="0.5"/>
<rect x="448.35" y="334.3" width="2.6" height="20.7" fill="#14604a" stroke="#0c0c0c" stroke-opacity="0.5" stroke-width="0.5"/>
<rect x="450.74" y="330.5" width="2.6" height="27.6" fill="#74293a" stroke="#0c0c0c" stroke-opacity="0.5" stroke-width="0.5"/>
<rect x="453.14" y="341.2" width="2.6" height="15.1" fill="#14604a" stroke="#0c0c0c" stroke-opacity="0.5" stroke-width="0.5"/>
<rect x="455.54" y="331.8" width="2.6" height="10.0" fill="#14604a" stroke="#0c0c0c" stroke-opacity="0.5" stroke-width="0.5"/>
<rect x="457.94" y="332.4" width="2.6" height="6.9" fill="#74293a" stroke="#0c0c0c" stroke-opacity="0.5" stroke-width="0.5"/>
<rect x="460.33" y="326.1" width="2.6" height="13.2" fill="#14604a" stroke="#0c0c0c" stroke-opacity="0.5" stroke-width="0.5"/>
<rect x="462.73" y="324.9" width="2.6" height="9.4" fill="#74293a" stroke="#0c0c0c" stroke-opacity="0.5" stroke-width="0.5"/>
<rect x="465.13" y="321.7" width="2.6" height="13.2" fill="#14604a" stroke="#0c0c0c" stroke-opacity="0.5" stroke-width="0.5"/>
<rect x="467.52" y="312.7" width="2.6" height="9.0" fill="#14604a" stroke="#0c0c0c" stroke-opacity="0.5" stroke-width="0.5"/>
<rect x="469.92" y="311.1" width="2.6" height="10.0" fill="#14604a" stroke="#0c0c0c" stroke-opacity="0.5" stroke-width="0.5"/>
<rect x="472.32" y="296.6" width="2.6" height="15.7" fill="#14604a" stroke="#0c0c0c" stroke-opacity="0.5" stroke-width="0.5"/>
<rect x="474.71" y="300.4" width="2.6" height="2.5" fill="#74293a" stroke="#0c0c0c" stroke-opacity="0.5" stroke-width="0.5"/>
<rect x="477.11" y="303.5" width="2.6" height="11.9" fill="#74293a" stroke="#0c0c0c" stroke-opacity="0.5" stroke-width="0.5"/>
<rect x="479.51" y="309.2" width="2.6" height="6.9" fill="#14604a" stroke="#0c0c0c" stroke-opacity="0.5" stroke-width="0.5"/>
<rect x="481.91" y="309.8" width="2.6" height="23.2" fill="#74293a" stroke="#0c0c0c" stroke-opacity="0.5" stroke-width="0.5"/>
<rect x="484.30" y="325.5" width="2.6" height="7.5" fill="#74293a" stroke="#0c0c0c" stroke-opacity="0.5" stroke-width="0.5"/>
<rect x="486.70" y="326.1" width="2.6" height="7.5" fill="#14604a" stroke="#0c0c0c" stroke-opacity="0.5" stroke-width="0.5"/>
<rect x="489.10" y="325.5" width="2.6" height="8.2" fill="#74293a" stroke="#0c0c0c" stroke-opacity="0.5" stroke-width="0.5"/>
<rect x="491.49" y="333.6" width="2.6" height="1.9" fill="#1c1c1c" stroke="#0c0c0c" stroke-opacity="0.5" stroke-width="0.5"/>
<rect x="493.89" y="339.3" width="2.6" height="5.6" fill="#1c1c1c" stroke="#0c0c0c" stroke-opacity="0.5" stroke-width="0.5"/>
<rect x="496.29" y="332.4" width="2.6" height="11.9" fill="#14604a" stroke="#0c0c0c" stroke-opacity="0.5" stroke-width="0.5"/>
<rect x="498.68" y="321.7" width="2.6" height="11.9" fill="#14604a" stroke="#0c0c0c" stroke-opacity="0.5" stroke-width="0.5"/>
<rect x="501.08" y="315.5" width="2.6" height="6.9" fill="#14604a" stroke="#0c0c0c" stroke-opacity="0.5" stroke-width="0.5"/>
<rect x="503.48" y="311.1" width="2.6" height="5.6" fill="#14604a" stroke="#0c0c0c" stroke-opacity="0.5" stroke-width="0.5"/>
<rect x="505.88" y="312.9" width="2.6" height="3.1" fill="#74293a" stroke="#0c0c0c" stroke-opacity="0.5" stroke-width="0.5"/>
<rect x="508.27" y="316.1" width="2.6" height="11.3" fill="#74293a" stroke="#0c0c0c" stroke-opacity="0.5" stroke-width="0.5"/>
<rect x="510.67" y="326.1" width="2.6" height="11.3" fill="#74293a" stroke="#0c0c0c" stroke-opacity="0.5" stroke-width="0.5"/>
<rect x="513.07" y="334.3" width="2.6" height="13.8" fill="#74293a" stroke="#0c0c0c" stroke-opacity="0.5" stroke-width="0.5"/>
<rect x="515.46" y="337.4" width="2.6" height="10.0" fill="#14604a" stroke="#0c0c0c" stroke-opacity="0.5" stroke-width="0.5"/>
<rect x="517.86" y="336.8" width="2.6" height="1.3" fill="#1c1c1c" stroke="#0c0c0c" stroke-opacity="0.5" stroke-width="0.5"/>
<rect x="520.26" y="338.7" width="2.6" height="3.1" fill="#74293a" stroke="#0c0c0c" stroke-opacity="0.5" stroke-width="0.5"/>
<rect x="522.65" y="341.2" width="2.6" height="7.5" fill="#74293a" stroke="#0c0c0c" stroke-opacity="0.5" stroke-width="0.5"/>
<rect x="525.05" y="349.9" width="2.6" height="22.6" fill="#74293a" stroke="#0c0c0c" stroke-opacity="0.5" stroke-width="0.5"/>
<rect x="527.45" y="370.0" width="2.6" height="3.1" fill="#14604a" stroke="#0c0c0c" stroke-opacity="0.5" stroke-width="0.5"/>
<rect x="529.85" y="358.1" width="2.6" height="11.3" fill="#14604a" stroke="#0c0c0c" stroke-opacity="0.5" stroke-width="0.5"/>
<rect x="532.24" y="358.1" width="2.6" height="11.9" fill="#74293a" stroke="#0c0c0c" stroke-opacity="0.5" stroke-width="0.5"/>
<rect x="534.64" y="346.8" width="2.6" height="23.8" fill="#14604a" stroke="#0c0c0c" stroke-opacity="0.5" stroke-width="0.5"/>
<rect x="537.04" y="343.7" width="2.6" height="4.4" fill="#14604a" stroke="#0c0c0c" stroke-opacity="0.5" stroke-width="0.5"/>
<rect x="539.43" y="346.8" width="2.6" height="22.6" fill="#74293a" stroke="#0c0c0c" stroke-opacity="0.5" stroke-width="0.5"/>
<rect x="541.83" y="358.1" width="2.6" height="11.3" fill="#14604a" stroke="#0c0c0c" stroke-opacity="0.5" stroke-width="0.5"/>
<rect x="544.23" y="368.8" width="2.6" height="1.9" fill="#74293a" stroke="#0c0c0c" stroke-opacity="0.5" stroke-width="0.5"/>
<rect x="546.62" y="360.6" width="2.6" height="1.3" fill="#1c1c1c" stroke="#0c0c0c" stroke-opacity="0.5" stroke-width="0.5"/>
<rect x="549.02" y="366.3" width="2.6" height="13.2" fill="#74293a" stroke="#0c0c0c" stroke-opacity="0.5" stroke-width="0.5"/>
<rect x="551.42" y="361.9" width="2.6" height="18.2" fill="#14604a" stroke="#0c0c0c" stroke-opacity="0.5" stroke-width="0.5"/>
<rect x="553.82" y="361.9" width="2.6" height="13.2" fill="#74293a" stroke="#0c0c0c" stroke-opacity="0.5" stroke-width="0.5"/>
<rect x="556.21" y="375.1" width="2.6" height="4.4" fill="#74293a" stroke="#0c0c0c" stroke-opacity="0.5" stroke-width="0.5"/>
<rect x="558.61" y="363.8" width="2.6" height="15.7" fill="#14604a" stroke="#0c0c0c" stroke-opacity="0.5" stroke-width="0.5"/>
<rect x="561.01" y="363.8" width="2.6" height="4.4" fill="#74293a" stroke="#0c0c0c" stroke-opacity="0.5" stroke-width="0.5"/>
<rect x="563.40" y="365.7" width="2.6" height="2.5" fill="#14604a" stroke="#0c0c0c" stroke-opacity="0.5" stroke-width="0.5"/>
<rect x="565.80" y="350.0" width="2.6" height="15.7" fill="#14604a" stroke="#0c0c0c" stroke-opacity="0.5" stroke-width="0.5"/>
<rect x="568.20" y="339.9" width="2.6" height="10.0" fill="#14604a" stroke="#0c0c0c" stroke-opacity="0.5" stroke-width="0.5"/>
<rect x="570.60" y="332.4" width="2.6" height="4.4" fill="#14604a" stroke="#0c0c0c" stroke-opacity="0.5" stroke-width="0.5"/>
<rect x="572.99" y="331.2" width="2.6" height="15.1" fill="#74293a" stroke="#0c0c0c" stroke-opacity="0.5" stroke-width="0.5"/>
<rect x="575.39" y="346.2" width="2.6" height="3.1" fill="#1c1c1c" stroke="#0c0c0c" stroke-opacity="0.5" stroke-width="0.5"/>
<rect x="577.79" y="345.0" width="2.6" height="17.6" fill="#74293a" stroke="#0c0c0c" stroke-opacity="0.5" stroke-width="0.5"/>
<rect x="580.18" y="362.5" width="2.6" height="1.3" fill="#1c1c1c" stroke="#0c0c0c" stroke-opacity="0.5" stroke-width="0.5"/>
<rect x="582.58" y="364.4" width="2.6" height="1.3" fill="#1c1c1c" stroke="#0c0c0c" stroke-opacity="0.5" stroke-width="0.5"/>
<rect x="584.98" y="365.7" width="2.6" height="1.9" fill="#1c1c1c" stroke="#0c0c0c" stroke-opacity="0.5" stroke-width="0.5"/>
<rect x="587.37" y="366.3" width="2.6" height="13.2" fill="#74293a" stroke="#0c0c0c" stroke-opacity="0.5" stroke-width="0.5"/>
<rect x="589.77" y="378.2" width="2.6" height="2.5" fill="#14604a" stroke="#0c0c0c" stroke-opacity="0.5" stroke-width="0.5"/>
<rect x="592.17" y="373.2" width="2.6" height="5.6" fill="#14604a" stroke="#0c0c0c" stroke-opacity="0.5" stroke-width="0.5"/>
<rect x="594.57" y="370.7" width="2.6" height="2.5" fill="#14604a" stroke="#0c0c0c" stroke-opacity="0.5" stroke-width="0.5"/>
<rect x="596.96" y="368.8" width="2.6" height="30.1" fill="#74293a" stroke="#0c0c0c" stroke-opacity="0.5" stroke-width="0.5"/>
<rect x="599.36" y="393.3" width="2.6" height="10.0" fill="#a3a8a4"/>
<rect x="599.36" y="402.7" width="2.6" height="4.1" fill="#1c1c1c" stroke="#0c0c0c" stroke-opacity="0.5" stroke-width="0.5"/>
<rect x="601.76" y="390.2" width="2.6" height="10.0" fill="#14604a" stroke="#0c0c0c" stroke-opacity="0.5" stroke-width="0.5"/>
<rect x="604.15" y="392.7" width="2.6" height="1.3" fill="#1c1c1c" stroke="#0c0c0c" stroke-opacity="0.5" stroke-width="0.5"/>
<rect x="606.55" y="393.3" width="2.6" height="21.9" fill="#74293a" stroke="#0c0c0c" stroke-opacity="0.5" stroke-width="0.5"/>
<rect x="608.95" y="404.0" width="2.6" height="22.6" fill="#14604a" stroke="#0c0c0c" stroke-opacity="0.5" stroke-width="0.5"/>
<rect x="611.34" y="400.8" width="2.6" height="1.9" fill="#1c1c1c" stroke="#0c0c0c" stroke-opacity="0.5" stroke-width="0.5"/>
<rect x="613.74" y="401.5" width="2.6" height="1.3" fill="#1c1c1c" stroke="#0c0c0c" stroke-opacity="0.5" stroke-width="0.5"/>
<rect x="616.14" y="401.5" width="2.6" height="3.1" fill="#1c1c1c" stroke="#0c0c0c" stroke-opacity="0.5" stroke-width="0.5"/>
<rect x="618.53" y="388.9" width="2.6" height="13.2" fill="#14604a" stroke="#0c0c0c" stroke-opacity="0.5" stroke-width="0.5"/>
<rect x="620.93" y="353.8" width="2.6" height="35.7" fill="#14604a" stroke="#0c0c0c" stroke-opacity="0.5" stroke-width="0.5"/>
<rect x="623.33" y="340.6" width="2.6" height="3.8" fill="#1c1c1c" stroke="#0c0c0c" stroke-opacity="0.5" stroke-width="0.5"/>
<rect x="625.73" y="333.7" width="2.6" height="50.2" fill="#74293a" stroke="#0c0c0c" stroke-opacity="0.5" stroke-width="0.5"/>
<rect x="628.12" y="379.5" width="2.6" height="4.4" fill="#14604a" stroke="#0c0c0c" stroke-opacity="0.5" stroke-width="0.5"/>
<rect x="630.52" y="371.4" width="2.6" height="9.4" fill="#14604a" stroke="#0c0c0c" stroke-opacity="0.5" stroke-width="0.5"/>
<rect x="632.92" y="371.4" width="2.6" height="8.8" fill="#74293a" stroke="#0c0c0c" stroke-opacity="0.5" stroke-width="0.5"/>
<rect x="635.31" y="379.5" width="2.6" height="4.4" fill="#74293a" stroke="#0c0c0c" stroke-opacity="0.5" stroke-width="0.5"/>
<rect x="637.71" y="376.4" width="2.6" height="6.9" fill="#14604a" stroke="#0c0c0c" stroke-opacity="0.5" stroke-width="0.5"/>
<rect x="640.11" y="378.3" width="2.6" height="15.1" fill="#74293a" stroke="#0c0c0c" stroke-opacity="0.5" stroke-width="0.5"/>
<rect x="642.50" y="393.9" width="2.6" height="2.5" fill="#74293a" stroke="#0c0c0c" stroke-opacity="0.5" stroke-width="0.5"/>
<rect x="644.90" y="390.8" width="2.6" height="7.5" fill="#14604a" stroke="#0c0c0c" stroke-opacity="0.5" stroke-width="0.5"/>
<rect x="647.30" y="394.6" width="2.6" height="1.9" fill="#1c1c1c" stroke="#0c0c0c" stroke-opacity="0.5" stroke-width="0.5"/>
<rect x="649.70" y="390.8" width="2.6" height="8.8" fill="#74293a" stroke="#0c0c0c" stroke-opacity="0.5" stroke-width="0.5"/>
<rect x="652.09" y="397.1" width="2.6" height="1.3" fill="#1c1c1c" stroke="#0c0c0c" stroke-opacity="0.5" stroke-width="0.5"/>
<rect x="654.49" y="390.2" width="2.6" height="6.9" fill="#14604a" stroke="#0c0c0c" stroke-opacity="0.5" stroke-width="0.5"/>
<rect x="656.89" y="386.4" width="2.6" height="11.3" fill="#14604a" stroke="#0c0c0c" stroke-opacity="0.5" stroke-width="0.5"/>
<rect x="659.28" y="386.7" width="2.6" height="18.8" fill="#74293a" stroke="#0c0c0c" stroke-opacity="0.5" stroke-width="0.5"/>
<rect x="661.68" y="397.4" width="2.6" height="18.2" fill="#74293a" stroke="#0c0c0c" stroke-opacity="0.5" stroke-width="0.5"/>
<rect x="664.08" y="411.8" width="2.6" height="8.2" fill="#74293a" stroke="#0c0c0c" stroke-opacity="0.5" stroke-width="0.5"/>
<rect x="666.48" y="402.4" width="2.6" height="16.3" fill="#14604a" stroke="#0c0c0c" stroke-opacity="0.5" stroke-width="0.5"/>
<rect x="668.87" y="399.9" width="2.6" height="4.4" fill="#74293a" stroke="#0c0c0c" stroke-opacity="0.5" stroke-width="0.5"/>
<rect x="671.27" y="402.4" width="2.6" height="6.9" fill="#74293a" stroke="#0c0c0c" stroke-opacity="0.5" stroke-width="0.5"/>
<rect x="673.67" y="408.0" width="2.6" height="1.9" fill="#1c1c1c" stroke="#0c0c0c" stroke-opacity="0.5" stroke-width="0.5"/>
<rect x="676.06" y="409.9" width="2.6" height="6.9" fill="#74293a" stroke="#0c0c0c" stroke-opacity="0.5" stroke-width="0.5"/>
<rect x="678.46" y="415.5" width="2.6" height="2.5" fill="#74293a" stroke="#0c0c0c" stroke-opacity="0.5" stroke-width="0.5"/>
<rect x="680.86" y="408.6" width="2.6" height="7.5" fill="#14604a" stroke="#0c0c0c" stroke-opacity="0.5" stroke-width="0.5"/>
<rect x="683.25" y="409.3" width="2.6" height="10.7" fill="#74293a" stroke="#0c0c0c" stroke-opacity="0.5" stroke-width="0.5"/>
<rect x="685.65" y="420.6" width="2.6" height="1.9" fill="#1c1c1c" stroke="#0c0c0c" stroke-opacity="0.5" stroke-width="0.5"/>
<rect x="688.05" y="420.6" width="2.6" height="1.3" fill="#1c1c1c" stroke="#0c0c0c" stroke-opacity="0.5" stroke-width="0.5"/>
<rect x="690.45" y="420.2" width="2.6" height="1.3" fill="#1c1c1c" stroke="#0c0c0c" stroke-opacity="0.5" stroke-width="0.5"/>
<rect x="692.84" y="414.3" width="2.6" height="7.5" fill="#14604a" stroke="#0c0c0c" stroke-opacity="0.5" stroke-width="0.5"/>
<rect x="695.24" y="412.4" width="2.6" height="1.3" fill="#1c1c1c" stroke="#0c0c0c" stroke-opacity="0.5" stroke-width="0.5"/>
<rect x="697.64" y="403.6" width="2.6" height="10.0" fill="#14604a" stroke="#0c0c0c" stroke-opacity="0.5" stroke-width="0.5"/>
<rect x="700.03" y="384.2" width="2.6" height="20.7" fill="#14604a" stroke="#0c0c0c" stroke-opacity="0.5" stroke-width="0.5"/>
<rect x="702.43" y="387.3" width="2.6" height="16.3" fill="#a3a8a4"/>
<rect x="704.83" y="394.2" width="2.6" height="1.3" fill="#1c1c1c" stroke="#0c0c0c" stroke-opacity="0.5" stroke-width="0.5"/>
<rect x="707.22" y="381.1" width="2.6" height="18.2" fill="#14604a" stroke="#0c0c0c" stroke-opacity="0.5" stroke-width="0.5"/>
<rect x="709.62" y="378.5" width="2.6" height="6.3" fill="#14604a" stroke="#0c0c0c" stroke-opacity="0.5" stroke-width="0.5"/>
<rect x="712.02" y="279.7" width="2.6" height="67.0" fill="#14604a" stroke="#0c0c0c" stroke-opacity="0.5" stroke-width="0.5"/></g>
<line x1="600" x2="728" y1="429.6" y2="429.6" stroke="#0e0e0e" stroke-width="2.7" stroke-linecap="round"/>
<g stroke="#948c8c" stroke-width="1.05" fill="none"><path d="M773 273.8H805M773 425.3H805M789 274V425.3M784.8 278L789 274.2L793.2 278"/></g>
<text x="730.6" y="259.3" font-size="10.2" fill="#3a3636" stroke="#3a3636" stroke-width="0.25" font-weight="normal" textLength="32.50" lengthAdjust="spacingAndGlyphs">36.353</text>
<text x="767.5" y="259.3" font-size="10.2" fill="#3a3636" stroke="#3a3636" stroke-width="0.25" font-weight="normal" textLength="43.10" lengthAdjust="spacingAndGlyphs">(64.74%)</text>
<text x="814.7" y="259.3" font-size="10.2" fill="#3a3636" stroke="#3a3636" stroke-width="0.25" font-weight="normal" textLength="32.70" lengthAdjust="spacingAndGlyphs">36,353</text>
<rect x="1136.5" y="272.7" width="45.4" height="13.8" rx="1.3" fill="#10b982"/>
<text x="1143.5" y="283.3" font-size="10.3" fill="#a8f5dc" stroke="#a8f5dc" stroke-width="0.15" font-weight="normal" text-anchor="start" textLength="33.5" lengthAdjust="spacing">91.083</text>
<text x="55.6" y="565.3" font-size="10.3" fill="#222222" stroke="#222222" stroke-width="0.25" font-weight="bold" textLength="24.80" lengthAdjust="spacingAndGlyphs">2021</text>
<text x="180.4" y="565.3" font-size="10.3" fill="#222222" stroke="#222222" stroke-width="0.25" font-weight="bold" textLength="24.80" lengthAdjust="spacingAndGlyphs">2022</text>
<text x="305.4" y="565.3" font-size="10.3" fill="#222222" stroke="#222222" stroke-width="0.25" font-weight="bold" textLength="24.80" lengthAdjust="spacingAndGlyphs">2023</text>
<text x="429.9" y="565.3" font-size="10.3" fill="#222222" stroke="#222222" stroke-width="0.25" font-weight="bold" textLength="24.80" lengthAdjust="spacingAndGlyphs">2024</text>
<text x="557.3" y="565.3" font-size="10.3" fill="#222222" stroke="#222222" stroke-width="0.25" font-weight="bold" textLength="24.80" lengthAdjust="spacingAndGlyphs">2025</text>
<text x="682.1" y="565.3" font-size="10.3" fill="#222222" stroke="#222222" stroke-width="0.25" font-weight="bold" textLength="24.80" lengthAdjust="spacingAndGlyphs">2026</text>
<text x="806.6" y="565.3" font-size="10.3" fill="#222222" stroke="#222222" stroke-width="0.25" font-weight="bold" textLength="24.80" lengthAdjust="spacingAndGlyphs">2027</text>
<text x="931.4" y="565.3" font-size="10.3" fill="#222222" stroke="#222222" stroke-width="0.25" font-weight="bold" textLength="24.80" lengthAdjust="spacingAndGlyphs">2028</text>
<text x="1056.3" y="565.3" font-size="10.3" fill="#222222" stroke="#222222" stroke-width="0.25" font-weight="bold" textLength="24.80" lengthAdjust="spacingAndGlyphs">2029</text>
<text x="130.6" y="565.3" font-size="10" fill="#222222" stroke="#222222" stroke-width="0.22" font-weight="normal" text-anchor="middle" textLength="13" lengthAdjust="spacing">Jul</text>
<text x="255.6" y="565.3" font-size="10" fill="#222222" stroke="#222222" stroke-width="0.22" font-weight="normal" text-anchor="middle" textLength="13" lengthAdjust="spacing">Jul</text>
<text x="380.4" y="565.3" font-size="10" fill="#222222" stroke="#222222" stroke-width="0.22" font-weight="normal" text-anchor="middle" textLength="13" lengthAdjust="spacing">Jul</text>
<text x="505" y="565.3" font-size="10" fill="#222222" stroke="#222222" stroke-width="0.22" font-weight="normal" text-anchor="middle" textLength="13" lengthAdjust="spacing">Jul</text>
<text x="631.8" y="565.3" font-size="10" fill="#222222" stroke="#222222" stroke-width="0.22" font-weight="normal" text-anchor="middle" textLength="13" lengthAdjust="spacing">Jul</text>
<text x="756.7" y="565.3" font-size="10" fill="#222222" stroke="#222222" stroke-width="0.22" font-weight="normal" text-anchor="middle" textLength="13" lengthAdjust="spacing">Jul</text>
<text x="881.7" y="565.3" font-size="10" fill="#222222" stroke="#222222" stroke-width="0.22" font-weight="normal" text-anchor="middle" textLength="13" lengthAdjust="spacing">Jul</text>
<text x="1006.2" y="565.3" font-size="10" fill="#222222" stroke="#222222" stroke-width="0.22" font-weight="normal" text-anchor="middle" textLength="13" lengthAdjust="spacing">Jul</text>
<text x="1124.4" y="565.3" font-size="10" fill="#222222" stroke="#222222" stroke-width="0.22" font-weight="normal" text-anchor="start" textLength="10" lengthAdjust="spacing">Ju</text>
<g fill="#eeeeee"><path d="M10 591.1h10v11.8h-5.6v-7.5H10z"/><circle cx="23.7" cy="593.4" r="2.5"/><path d="M29.1 591.1h5.3l-4.6 11.8h-5.8z"/></g>
<text x="40.3" y="602.8" font-size="16.6" font-weight="bold" fill="#eeeeee" textLength="98.4" lengthAdjust="spacingAndGlyphs">TradingView</text>
</svg></body></html>
